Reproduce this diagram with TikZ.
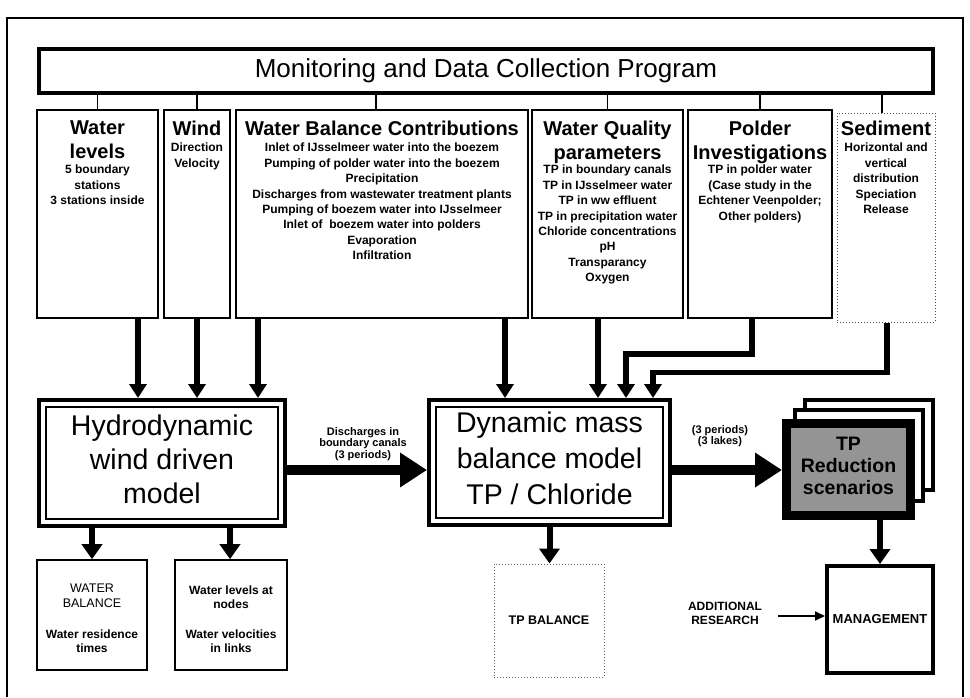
\documentclass[tikz,border=0pt]{standalone}
\usepackage{fontspec}
\setmainfont{Liberation Sans}
\usetikzlibrary{arrows.meta}
\newcommand\fsz[2]{\fontsize{#1}{#2}\selectfont}
\begin{document}
\begin{tikzpicture}[x=1pt,y=-1pt,
  colbox/.style={draw, line width=1.8pt, fill=white, inner sep=0pt, minimum height=208pt},
  coltitle/.style={font=\fsz{20}{23.5}\bfseries, align=center, inner sep=0pt, anchor=north},
  colbody/.style={font=\fsz{12}{15.4}\bfseries, align=center, inner sep=0pt, anchor=north},
  model/.style={draw, line width=4pt, fill=white, align=center, inner sep=0pt},
  outbox/.style={draw, line width=1.6pt, inner sep=0pt, minimum height=110pt},
  smalltxt/.style={font=\fsz{12}{14}\bfseries, align=center, inner sep=0pt},
  lbl/.style={font=\fsz{11}{11.5}\bfseries, align=center, inner sep=0pt},
  link/.style={line width=1.8pt},
  colarrow/.style={line width=5.5pt, -{Triangle[width=17pt,length=14pt]}},
  outarrow/.style={line width=6pt, -{Triangle[width=20pt,length=15pt]}},
  bigarrow/.style={line width=10pt, -{Triangle[width=33pt,length=27pt]}},
  thinarrow/.style={line width=2pt, -{Triangle[width=9pt,length=10pt]}}
]
\path[use as bounding box, fill=white] (0,0) rectangle (970,697);
\draw[line width=1.5pt] (7,697) -- (7,18) -- (963,18) -- (963,697);

% monitoring program
\node[draw, line width=4pt, minimum width=894pt, minimum height=44pt, inner sep=0pt, font=\fsz{26}{30}] (mon) at (486,71) {Monitoring and Data Collection Program};

% columns
\node[colbox, minimum width=121pt] (wl) at (97.5,214) {};
\node[colbox, minimum width=66pt] (wind) at (197,214) {};
\node[colbox, minimum width=292pt] (wbc) at (382,214) {};
\node[colbox, minimum width=151pt] (wq) at (607.5,214) {};
\node[colbox, minimum width=144pt] (pol) at (760,214) {};
\node[draw=black!70, dotted, line width=1pt, inner sep=0pt, minimum width=98pt, minimum height=209pt] (sed) at (886,217.5) {};

\draw[link] (mon.south -| wl.north) -- (wl.north);
\draw[link] (mon.south -| wind.north) -- (wind.north);
\draw[link] ([xshift=-6pt]wbc.north |- mon.south) -- ([xshift=-6pt]wbc.north);
\draw[link] (mon.south -| wq.north) -- (wq.north);
\draw[link] (mon.south -| pol.north) -- (pol.north);
\draw[link] ([xshift=-4pt]sed.north |- mon.south) -- ([xshift=-4pt]sed.north);

\node[coltitle] (wlt) at (97.5,121) {Water\\levels};
\node[colbody] (wlb) at (97.5,165) {5 boundary\\stations\\3 stations inside};
\node[coltitle] (windt) at (197,121) {Wind};
\node[colbody] (windb) at (197,143) {Direction\\Velocity};
\node[coltitle] (wbct) at (382,121) {Water Balance Contributions};
\node[colbody] (wbcb) at (382,143) {Inlet of IJsselmeer water into the boezem\\Pumping of polder water into the boezem\\Precipitation\\Discharges from wastewater treatment plants\\Pumping of boezem water into IJsselmeer\\Inlet of~ boezem water into polders\\Evaporation\\Infiltration};
\node[coltitle] (wqt) at (607.5,121) {Water Quality\\parameters};
\node[colbody] (wqb) at (607.5,165) {TP in boundary canals\\TP in IJsselmeer water\\TP in ww effluent\\TP in precipitation water\\Chloride concentrations\\pH\\Transparancy\\Oxygen};
\node[coltitle] (polt) at (760,121) {Polder\\Investigations};
\node[colbody] (polb) at (760,165) {TP in polder water\\(Case study in the\\Echtener Veenpolder;\\Other polders)};
\node[coltitle] (sedt) at (886,121) {Sediment};
\node[colbody] (sedb) at (886,143) {Horizontal and\\vertical\\distribution\\Speciation\\Release};

% models
\node[model, minimum width=246pt, minimum height=126pt] (hydro) at (162,463) {};
\draw[line width=1.3pt] ([shift={(9,9)}]hydro.north west) rectangle ([shift={(-9,-9)}]hydro.south east);
\node[font=\fsz{28.5}{34}, align=center, inner sep=0pt] (hydrot) at (162,459) {Hydrodynamic\\wind driven\\model};
\node[model, minimum width=241pt, minimum height=125pt] (dyn) at (549.5,462.5) {};
\draw[line width=1.3pt] ([shift={(9,9)}]dyn.north west) rectangle ([shift={(-9,-9)}]dyn.south east);
\node[font=\fsz{28.5}{36}, align=center, inner sep=0pt] (dynt) at (549.5,458) {Dynamic mass\\balance model\\TP / Chloride};

% TP reduction stack
\node[draw, line width=4pt, fill=white, minimum width=128pt, minimum height=90pt] (tpk) at (869,445) {};
\node[draw, line width=4pt, fill=white, minimum width=128pt, minimum height=91pt] (tpm) at (859,455.5) {};
\node[draw, line width=9pt, fill=black!42, minimum width=124pt, minimum height=92pt] (tp) at (848.5,469.5) {};
\node[font=\fsz{19.5}{22}\bfseries, align=center, inner sep=0pt] (tpt) at (848.5,466) {TP\\Reduction\\scenarios};

% column arrows
\draw[colarrow] ([xshift=40.5pt]wl.south) -- ([xshift=40.5pt]wl.south |- hydro.north);
\draw[colarrow] (wind.south) -- (wind.south |- hydro.north);
\draw[colarrow] ([xshift=-124pt]wbc.south) -- ([xshift=-124pt]wbc.south |- hydro.north);
\draw[colarrow] ([xshift=123pt]wbc.south) -- ([xshift=123pt]wbc.south |- dyn.north);
\draw[colarrow] ([xshift=-9.5pt]wq.south) -- ([xshift=-9.5pt]wq.south |- dyn.north);
\draw[colarrow] ([xshift=-8pt]pol.south) -- ++(0,35) -| ([xshift=76.5pt]dyn.north);
\draw[colarrow] ([xshift=1pt]sed.south) -- ++(0,50) -| ([xshift=103.5pt]dyn.north);

% main flow
\draw[bigarrow] ([yshift=-7pt]hydro.east) -- ([yshift=-7pt]hydro.east -| dyn.west);
\draw[bigarrow] ([yshift=-7.5pt]dyn.east) -- ([yshift=-7.5pt]dyn.east -| tp.west);
\node[lbl] (dlab) at (363,444) {Discharges in\\boundary canals\\(3 periods)};
\node[lbl] (plab) at (720,436) {(3 periods)\\(3 lakes)};

% outputs
\node[outbox, minimum width=110pt] (wbo) at (92,615) {};
\node[font=\fsz{12.5}{15}, align=center, inner sep=0pt] (wbo1) at (92,596) {WATER\\BALANCE};
\node[smalltxt] (wbo2) at (92,641.5) {Water residence\\times};
\node[outbox, minimum width=112pt] (wlo) at (231,615) {};
\node[smalltxt] (wlo1) at (231,597) {Water levels at\\nodes};
\node[smalltxt] (wlo2) at (231,641.5) {Water velocities\\in links};
\node[draw=black!60, dotted, line width=1pt, minimum width=110pt, minimum height=113pt, inner sep=0pt, font=\fsz{12.5}{15}\bfseries] (tpbal) at (549,620.5) {TP BALANCE};
\node[draw, line width=4pt, minimum width=106pt, minimum height=107pt, inner sep=0pt, font=\fsz{13}{15}\bfseries] (mgmt) at (880,619.5) {MANAGEMENT};
\node[smalltxt] (res) at (725,613) {ADDITIONAL\\RESEARCH};

\draw[outarrow] ([xshift=-70pt]hydro.south) -- ([xshift=-70pt]hydro.south |- wbo.north);
\draw[outarrow] ([xshift=68pt]hydro.south) -- ([xshift=68pt]hydro.south |- wlo.north);
\draw[outarrow] (dyn.south) -- (dyn.south |- tpbal.north);
\draw[outarrow] (tp.south -| mgmt.north) -- (mgmt.north);
\draw[thinarrow] ([xshift=16pt,yshift=-3pt]res.east) -- ([yshift=-3pt]res.east -| mgmt.west);
\end{tikzpicture}
\end{document}
